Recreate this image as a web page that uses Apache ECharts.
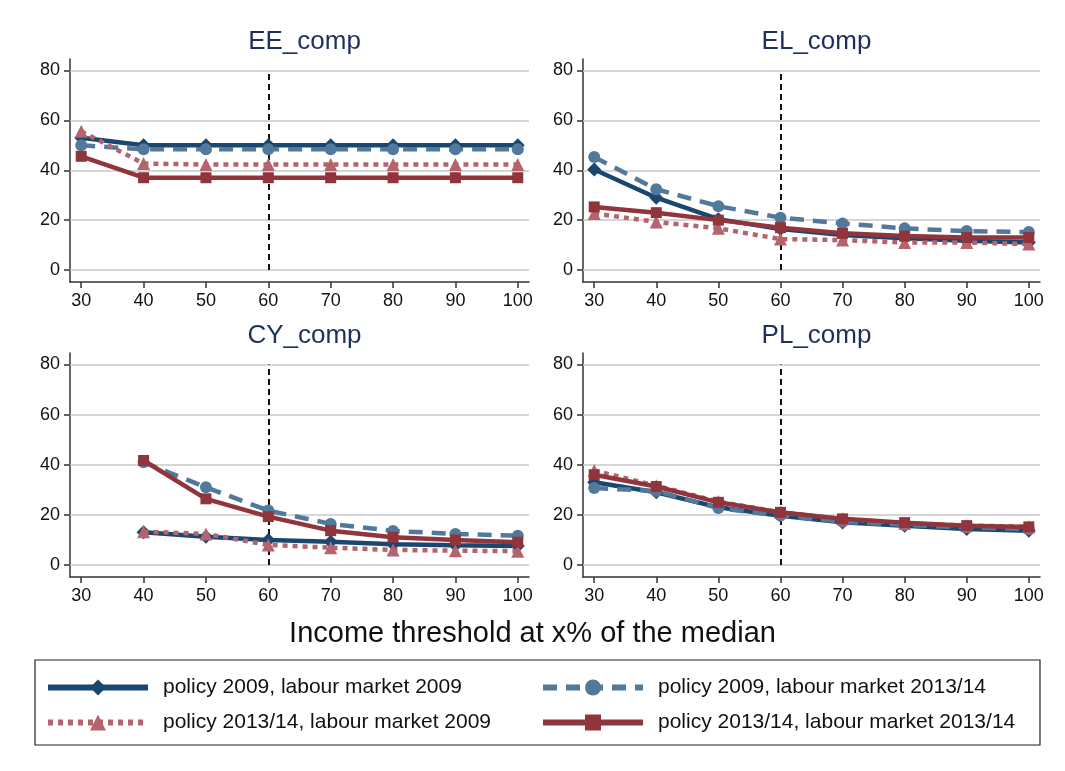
<!DOCTYPE html>
<html>
<head>
<meta charset="utf-8">
<script src="https://cdn.jsdelivr.net/npm/echarts@6/dist/echarts.min.js"></script>
<style>
  html, body { margin: 0; padding: 0; background: #fff; }
  #chart { width: 1065px; height: 771px; }
</style>
</head>
<body>
<div id="chart"></div>
<script>
// thresholds (x% of the median)
const thresholds = [30, 40, 50, 60, 70, 80, 90, 100]
const xTicks = [30, 40, 50, 60, 70, 80, 90, 100]
const yTicks = [0, 20, 40, 60, 80]
const panelNames = ['EE_comp', 'EL_comp', 'CY_comp', 'PL_comp']
const seriesNames = [
  'policy 2009, labour market 2009',
  'policy 2009, labour market 2013/14',
  'policy 2013/14, labour market 2009',
  'policy 2013/14, labour market 2013/14'
]

// EE
const eePol09Lm09 = [53, 50, 50, 50, 50, 50, 50, 50]
const eePol09Lm13 = [50, 48.4, 48.4, 48.4, 48.4, 48.4, 48.4, 48.4]
const eePol13Lm09 = [55.6, 42.7, 42.3, 42.3, 42.3, 42.3, 42.3, 42.3]
const eePol13Lm13 = [45.6, 37, 37, 37, 37, 37, 37, 37]
// EL
const elPol09Lm09 = [40.3, 29, 20.4, 16.4, 14, 12.7, 11.7, 11]
const elPol09Lm13 = [45.3, 32.4, 25.6, 21, 18.7, 16.7, 15.6, 15.2]
const elPol13Lm09 = [22.7, 19.3, 16.7, 12.4, 12, 11, 11, 10.4]
const elPol13Lm13 = [25.3, 23, 20, 17, 14.7, 13.6, 13, 13]
// CY (no value at 30)
const cyPol09Lm09 = [null, 13.1, 11.3, 10, 9.3, 8.3, 7.9, 7.6]
const cyPol09Lm13 = [null, 41, 31, 21.7, 16.4, 13.6, 12.4, 11.7]
const cyPol13Lm09 = [null, 13.3, 12.4, 8, 6.9, 6, 5.7, 5.5]
const cyPol13Lm13 = [null, 41.7, 26.4, 19.3, 13.7, 11.1, 10, 9.1]
// PL
const plPol09Lm09 = [33, 29, 23, 19.6, 17, 15.7, 14.4, 13.7]
const plPol09Lm13 = [30.7, 29.5, 22.7, 19.7, 17.3, 16, 15, 14.3]
const plPol13Lm09 = [37.7, 31.6, 25.3, 21, 18.4, 16.7, 15.7, 15.3]
const plPol13Lm13 = [36, 31.3, 25, 21, 18.4, 16.9, 15.7, 15.2]

const panelData = [
  [eePol09Lm09, eePol09Lm13, eePol13Lm09, eePol13Lm13],
  [elPol09Lm09, elPol09Lm13, elPol13Lm09, elPol13Lm13],
  [cyPol09Lm09, cyPol09Lm13, cyPol13Lm09, cyPol13Lm13],
  [plPol09Lm09, plPol09Lm13, plPol13Lm09, plPol13Lm13]
]

const FONT = 'Liberation Sans, Arial, sans-serif'
const styles = [
  {color: '#1a476f', type: 'solid', symbol: 'diamond', size: 14},
  {color: '#52799c', type: [14, 9], symbol: 'circle', size: 12},
  {color: '#b5646d', type: [5, 5], symbol: 'triangle', size: 13},
  {color: '#90353b', type: 'solid', symbol: 'rect', size: 11}
]

const grids = [
  {left: 70, top: 59, width: 459, height: 223},
  {left: 583, top: 59, width: 457, height: 223},
  {left: 70, top: 353, width: 459, height: 224},
  {left: 583, top: 353, width: 457, height: 224}
]

const titles = []
const xAxes = []
const yAxes = []
const series = []

panelNames.forEach((name, i) => {
  const g = grids[i]
  titles.push({
    text: name,
    left: g.left + g.width / 2,
    top: g.top - 35,
    textAlign: 'center',
    textStyle: {fontFamily: FONT, fontSize: 26, fontWeight: 'normal', color: '#1e2f5e'}
  })
  xAxes.push({
    gridIndex: i,
    type: 'value',
    min: 28.2,
    max: 101.8,
    axisLine: {show: true, onZero: false, lineStyle: {color: '#333', width: 1.5}},
    axisTick: {show: true, customValues: xTicks, length: 6, lineStyle: {color: '#333', width: 1.5}},
    axisLabel: {customValues: xTicks, fontFamily: FONT, fontSize: 18, color: '#111', margin: 10},
    splitLine: {show: false}
  })
  yAxes.push({
    gridIndex: i,
    type: 'value',
    min: -4.8,
    max: 84.6,
    axisLine: {show: true, lineStyle: {color: '#333', width: 1.5}},
    axisTick: {show: true, customValues: yTicks, length: 6, lineStyle: {color: '#333', width: 1.5}},
    axisLabel: {customValues: yTicks, fontFamily: FONT, fontSize: 18, color: '#111', margin: 10},
    splitLine: {show: false}
  })

  // gridlines + reference line at 60
  series.push({
    type: 'line',
    xAxisIndex: i,
    yAxisIndex: i,
    data: [],
    silent: true,
    z: 1,
    markLine: {
      silent: true,
      symbol: 'none',
      z: 1,
      label: {show: false},
      lineStyle: {color: '#c8c8c8', width: 1.5, type: 'solid'},
      data: yTicks.map(v => ({yAxis: v}))
    }
  })
  series.push({
    type: 'line',
    xAxisIndex: i,
    yAxisIndex: i,
    data: [],
    silent: true,
    z: 2,
    markLine: {
      silent: true,
      symbol: 'none',
      z: 2,
      label: {show: false},
      lineStyle: {color: '#111', width: 2, type: [6, 4]},
      data: [[{coord: [60, 0]}, {coord: [60, 80]}]]
    }
  })

  panelData[i].forEach((vals, k) => {
    const s = styles[k]
    series.push({
      name: seriesNames[k],
      type: 'line',
      xAxisIndex: i,
      yAxisIndex: i,
      data: thresholds.map((x, j) => [x, vals[j]]),
      connectNulls: false,
      symbol: s.symbol,
      symbolSize: s.size,
      z: 3 + k,
      lineStyle: {color: s.color, width: 4.5, type: s.type},
      itemStyle: {color: s.color},
      emphasis: {disabled: true},
      animation: false
    })
  })
})

titles.push({
  text: 'Income threshold at x% of the median',
  left: 'center',
  top: 614,
  textStyle: {fontFamily: FONT, fontSize: 29, fontWeight: 'normal', color: '#111'}
})

const legendCommon = {
  orient: 'vertical',
  padding: 0,
  itemWidth: 100,
  itemHeight: 20,
  itemGap: 14,
  lineStyle: {width: 6},
  textStyle: {fontFamily: FONT, fontSize: 21, color: '#111', padding: [0, 0, 0, 10]},
  selectedMode: false
}

const chart = echarts.init(document.getElementById('chart'), null, {renderer: 'canvas'})
chart.setOption({
  animation: false,
  backgroundColor: '#fff',
  title: titles,
  grid: grids,
  xAxis: xAxes,
  yAxis: yAxes,
  legend: [
    Object.assign({left: 45, top: 677, data: [seriesNames[0], seriesNames[2]]}, legendCommon),
    Object.assign({left: 540, top: 677, data: [seriesNames[1], seriesNames[3]]}, legendCommon)
  ],
  graphic: [{
    type: 'rect',
    shape: {x: 35, y: 660, width: 1005, height: 85},
    style: {fill: 'none', stroke: '#222', lineWidth: 1.2}
  }],
  series: series
})
</script>
</body>
</html>
